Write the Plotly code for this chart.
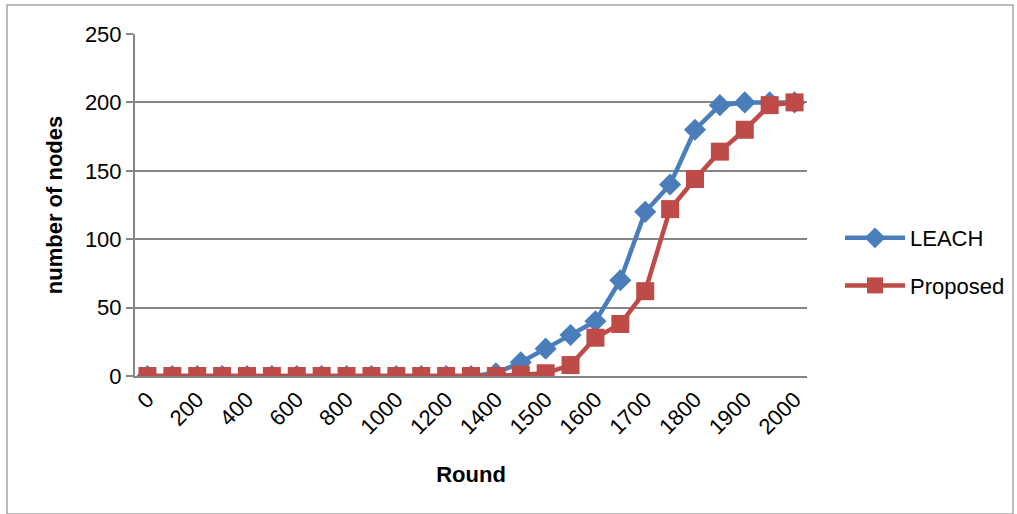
import plotly.graph_objects as go

# Round categories (0..1400 step 100, then 1450..2000 step 50)
rounds = [0, 100, 200, 300, 400, 500, 600, 700, 800, 900, 1000, 1100, 1200, 1300,
          1400, 1450, 1500, 1550, 1600, 1650, 1700, 1750, 1800, 1850, 1900, 1950, 2000]
leach = [0, 0, 0, 0, 0, 0, 0, 0, 0, 0, 0, 0, 0, 0,
         2, 10, 20, 30, 40, 70, 120, 140, 180, 198, 200, 200, 200]
proposed = [0, 0, 0, 0, 0, 0, 0, 0, 0, 0, 0, 0, 0, 0,
            0, 1, 2, 8, 28, 38, 62, 122, 144, 164, 180, 198, 200]
tick_labels = ["0", "200", "400", "600", "800", "1000", "1200", "1400",
               "1500", "1600", "1700", "1800", "1900", "2000"]

cats = [str(r) for r in rounds]

W, H = 1017, 514
L, R, T, B = 135, 210, 34, 138
pw, ph = W - L - R, H - T - B


def px(x):
    return (x - L) / pw


def py(y):
    return (H - B - y) / ph


FONT = "Liberation Sans, Arial, sans-serif"
BLUE = "#4A7EBB"
RED = "#BE4B48"

fig = go.Figure()
fig.add_trace(go.Scatter(
    x=cats, y=leach, name="LEACH", mode="lines+markers", legendgroup="a",
    line=dict(color=BLUE, width=4.5),
    marker=dict(symbol="diamond", size=17, color=BLUE),
))
fig.add_trace(go.Scatter(
    x=cats, y=proposed, name="Proposed", mode="lines+markers", legendgroup="b",
    line=dict(color=RED, width=4.5),
    marker=dict(symbol="square", size=18, color=RED),
))

fig.update_layout(
    width=W, height=H,
    margin=dict(l=L, r=R, t=T, b=B, pad=0, autoexpand=False),
    paper_bgcolor="white", plot_bgcolor="white",
    font=dict(family=FONT, size=22, color="black"),
    showlegend=True,
    legend=dict(x=px(840), y=py(262), xanchor="left", yanchor="middle",
                font=dict(size=22), traceorder="grouped", tracegroupgap=16,
                itemwidth=60, bgcolor="rgba(0,0,0,0)"),
    shapes=[dict(type="rect", xref="paper", yref="paper",
                 x0=px(7), x1=px(1013), y0=py(514), y1=py(5),
                 line=dict(color="#A6A6A6", width=1.5), layer="below")],
)

fig.update_xaxes(
    type="category", categoryorder="array", categoryarray=cats,
    range=[-0.5, len(cats) - 0.5],
    tickmode="array", tickvals=cats[::2], ticktext=tick_labels,
    tickangle=-45, tickfont=dict(size=22),
    showgrid=False, zeroline=False,
    showline=True, linecolor="#868686", linewidth=2,
    ticks="", title=dict(text="<b>Round</b>", font=dict(size=22), standoff=28),
)
fig.update_yaxes(
    range=[0, 250], tickvals=[0, 50, 100, 150, 200, 250],
    tickfont=dict(size=22),
    showgrid=True, gridcolor="#868686", gridwidth=2,
    zeroline=False, showline=True, linecolor="#868686", linewidth=2,
    ticks="outside", ticklen=7, tickcolor="#868686", tickwidth=2,
    title=dict(text="<b>number of nodes</b>", font=dict(size=22), standoff=16),
)

fig.write_html("out.html")
